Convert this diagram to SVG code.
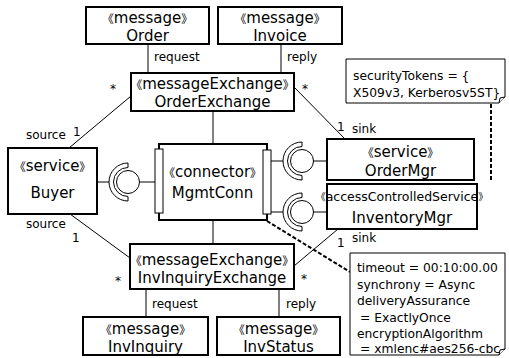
<svg xmlns="http://www.w3.org/2000/svg" width="509" height="358" viewBox="0 0 509 358">
<style>
.box{fill:#fff;stroke:#000;stroke-width:2}
.port{fill:#fff;stroke:#000;stroke-width:1}
.ln{fill:none;stroke:#000;stroke-width:1}
.dash{fill:none;stroke:#000;stroke-width:2;stroke-dasharray:4,2}
.note{fill:#fff;stroke:#000;stroke-width:1}
text{font-family:"DejaVu Sans","Noto Sans CJK SC",sans-serif;fill:#000}
.t{font-size:15px;text-anchor:middle}
.b{font-size:11.5px}
.s{font-size:12px}
.n{font-size:12.3px}
</style>
<g id="connectors">
<line class="ln" x1="148" y1="44" x2="148" y2="73"/>
<line class="ln" x1="281" y1="44" x2="281" y2="73"/>
<line class="ln" x1="131" y1="96" x2="69" y2="148"/>
<line class="ln" x1="295" y1="88" x2="345" y2="139"/>
<line class="ln" x1="213" y1="111" x2="213" y2="144"/>
<line class="ln" x1="213" y1="220" x2="213" y2="244"/>
<line class="ln" x1="70" y1="214" x2="130" y2="258"/>
<line class="ln" x1="338" y1="229" x2="294" y2="266"/>
<line class="ln" x1="146" y1="289" x2="146" y2="317"/>
<line class="ln" x1="279" y1="289" x2="279" y2="317"/>
<line class="ln" x1="97" y1="182" x2="109" y2="182"/>
<line class="ln" x1="140" y1="182" x2="155" y2="182"/>
<line class="ln" x1="271" y1="161" x2="283" y2="161"/>
<line class="ln" x1="313" y1="161" x2="327" y2="161"/>
<line class="ln" x1="271" y1="212" x2="283" y2="212"/>
<line class="ln" x1="313" y1="212" x2="327" y2="212"/>
<line class="dash" x1="491" y1="104" x2="491" y2="182"/>
<line class="dash" x1="267" y1="221" x2="350" y2="272"/>
<text class="s" x="154" y="61">request</text>
<text class="s" x="287" y="61">reply</text>
<text class="s" x="110" y="93">*</text>
<text class="s" x="302" y="93">*</text>
<text class="s" x="26" y="139">source</text>
<text class="s" x="73" y="136">1</text>
<text class="s" x="337" y="131">1</text>
<text class="s" x="352" y="133">sink</text>
<text class="s" x="26" y="228">source</text>
<text class="s" x="72" y="242">1</text>
<text class="s" x="115" y="285">*</text>
<text class="s" x="337" y="247">1</text>
<text class="s" x="352" y="242">sink</text>
<text class="s" x="301" y="283">*</text>
<text class="s" x="152" y="308">request</text>
<text class="s" x="286" y="308">reply</text>
</g>
<g id="Order">
<rect class="box" x="86" y="7" width="123" height="37"/>
<text class="t" x="147.5" y="23"><tspan class="b">《</tspan>message<tspan class="b">》</tspan></text>
<text class="t" x="147.5" y="41">Order</text>
</g>
<g id="Invoice">
<rect class="box" x="218" y="7" width="124" height="37"/>
<text class="t" x="280" y="23"><tspan class="b">《</tspan>message<tspan class="b">》</tspan></text>
<text class="t" x="280" y="41">Invoice</text>
</g>
<g id="OrderExchange">
<rect class="box" x="131" y="73" width="163" height="38"/>
<text class="t" x="212.5" y="89"><tspan class="b">《</tspan>messageExchange<tspan class="b">》</tspan></text>
<text class="t" x="212.5" y="107">OrderExchange</text>
</g>
<g id="Buyer">
<rect class="box" x="8" y="148" width="89" height="66"/>
<text class="t" x="52.5" y="171"><tspan class="b">《</tspan>service<tspan class="b">》</tspan></text>
<text class="t" x="52.5" y="198">Buyer</text>
</g>
<g id="BuyerSocket">
<path class="ln" d="M128,163 A19,19 0 0 0 128,201 L128,196.5 A14.5,14.5 0 0 1 128,167.5 Z"/>
<circle class="ln" cx="128" cy="182" r="11.5"/>
</g>
<g id="MgmtConn">
<rect class="box" x="159" y="144" width="108" height="76"/>
<rect class="port" x="155" y="149" width="8" height="64"/>
<rect class="port" x="263" y="150" width="8" height="64"/>
<text class="t" x="212.5" y="177"><tspan class="b">《</tspan>connector<tspan class="b">》</tspan></text>
<text class="t" x="212.5" y="198">MgmtConn</text>
</g>
<g id="OrderMgrSocket">
<path class="ln" d="M302,142 A19,19 0 0 0 302,180 L302,175.5 A14.5,14.5 0 0 1 302,146.5 Z"/>
<circle class="ln" cx="302" cy="161" r="11.5"/>
</g>
<g id="InventoryMgrSocket">
<path class="ln" d="M302,193 A19,19 0 0 0 302,231 L302,226.5 A14.5,14.5 0 0 1 302,197.5 Z"/>
<circle class="ln" cx="302" cy="212" r="11.5"/>
</g>
<g id="OrderMgr">
<rect class="box" x="327" y="139" width="147" height="41"/>
<text class="t" x="400.5" y="157"><tspan class="b">《</tspan>service<tspan class="b">》</tspan></text>
<text class="t" x="400.5" y="176">OrderMgr</text>
</g>
<g id="InventoryMgr">
<rect class="box" x="327" y="184" width="150" height="45"/>
<text class="t" x="402" y="201" style="font-size:12.5px"><tspan style="font-size:10px">《</tspan>accessControlledService<tspan style="font-size:10px">》</tspan></text>
<text class="t" x="402" y="223">InventoryMgr</text>
</g>
<g id="InvInquiryExchange">
<rect class="box" x="130" y="244" width="164" height="45"/>
<text class="t" x="212" y="265"><tspan class="b">《</tspan>messageExchange<tspan class="b">》</tspan></text>
<text class="t" x="212" y="283">InvInquiryExchange</text>
</g>
<g id="InvInquiry">
<rect class="box" x="83" y="317" width="125" height="38"/>
<text class="t" x="145.5" y="334"><tspan class="b">《</tspan>message<tspan class="b">》</tspan></text>
<text class="t" x="145.5" y="352">InvInquiry</text>
</g>
<g id="InvStatus">
<rect class="box" x="217" y="317" width="123" height="38"/>
<text class="t" x="278.5" y="334"><tspan class="b">《</tspan>message<tspan class="b">》</tspan></text>
<text class="t" x="278.5" y="352">InvStatus</text>
</g>
<g id="SecurityNote">
<path class="note" d="M346,59 H505 V97 L499,103 H346 Z"/>
<path class="note" d="M499,103 L500,98 L505,97"/>
<text class="n" x="353" y="80">securityTokens = {</text>
<text class="n" x="353" y="97">X509v3, Kerberosv5ST}</text>
</g>
<g id="ConnectorNote">
<path class="note" d="M350,253 H505 V349 L499,355 H350 Z"/>
<path class="note" d="M499,355 L500,350 L505,349"/>
<text class="n" x="357" y="272">timeout = 00:10:00.00</text>
<text class="n" x="357" y="288.5">synchrony = Async</text>
<text class="n" x="357" y="305">deliveryAssurance</text>
<text class="n" x="360" y="321.5">= ExactlyOnce</text>
<text class="n" x="357" y="338">encryptionAlgorithm</text>
<text class="n" x="360" y="353">= xmlenc#aes256-cbc</text>
</g>
</svg>
